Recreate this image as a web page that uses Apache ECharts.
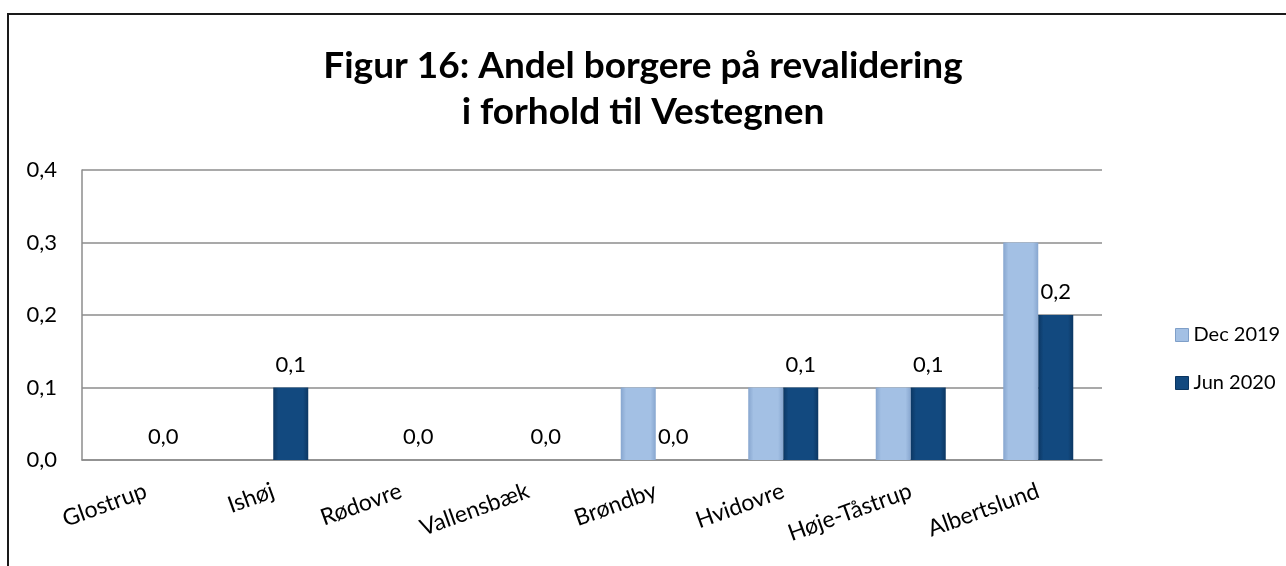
<!DOCTYPE html>
<html>
<head>
<meta charset="utf-8">
<script src="https://cdn.jsdelivr.net/npm/echarts@6/dist/echarts.min.js"></script>
<style>
  html, body { margin: 0; padding: 0; background: #fff; }
  #chart { position: absolute; left: 0; top: 0; width: 1286px; height: 566px; }
  #frame { position: absolute; left: 7px; top: 13px; width: 1300px; height: 600px;
           border-left: 2px solid #1a1a1a; border-top: 2px solid #1a1a1a; pointer-events: none; }
</style>
</head>
<body>
<div id="chart"></div>
<div id="frame"></div>
<script>
var font = 'Lato, "Open Sans", sans-serif';
var categories = ['Glostrup', 'Ishøj', 'Rødovre', 'Vallensbæk', 'Brøndby', 'Hvidovre', 'Høje-Tåstrup', 'Albertslund'];
var dec2019 = [0.0, 0.0, 0.0, 0.0, 0.1, 0.1, 0.1, 0.3];
var jun2020 = [0.0, 0.1, 0.0, 0.0, 0.0, 0.1, 0.1, 0.2];
var seriesNames = ['Dec 2019', 'Jun 2020'];

function fmt(v) { return v.toFixed(1).replace('.', ','); }

function grad(edge, mid) {
    return new echarts.graphic.LinearGradient(0, 0, 1, 0, [
        { offset: 0, color: edge },
        { offset: 0.15, color: mid },
        { offset: 0.85, color: mid },
        { offset: 1, color: edge }
    ]);
}

var decColor = grad('#87a6cf', '#a3c0e4');
var junColor = grad('#0c3763', '#12497f');

var option = {
    animation: false,
    title: {
        text: 'Figur 16: Andel borgere på revalidering\ni forhold til Vestegnen',
        left: 'center',
        top: 38,
        textStyle: {
            fontFamily: font,
            fontWeight: 'bold',
            fontSize: 37,
            lineHeight: 46,
            color: '#000'
        }
    },
    legend: {
        orient: 'vertical',
        left: 1170,
        top: 320,
        itemGap: 28,
        itemWidth: 13,
        itemHeight: 13,
        icon: 'rect',
        textStyle: { fontFamily: font, fontSize: 20, color: '#000' },
        data: [
            { name: 'Dec 2019', itemStyle: { color: '#a3c0e4', borderColor: '#7f9fc8', borderWidth: 1 } },
            { name: 'Jun 2020', itemStyle: { color: '#12497f', borderColor: '#0a3560', borderWidth: 1 } }
        ]
    },
    grid: { left: 82, right: 184, top: 170, bottom: 106 },
    xAxis: {
        type: 'category',
        data: categories,
        axisLine: { lineStyle: { color: '#8c8c8c', width: 1.5 } },
        axisTick: { show: false },
        axisLabel: {
            rotate: 20,
            interval: 0,
            margin: 30,
            fontFamily: font,
            fontSize: 23,
            color: '#000'
        }
    },
    yAxis: {
        type: 'value',
        min: 0,
        max: 0.4,
        interval: 0.1,
        axisLine: { show: true, lineStyle: { color: '#8c8c8c', width: 1.5 } },
        axisTick: { show: false },
        splitLine: { lineStyle: { color: '#8c8c8c', width: 1.5 } },
        axisLabel: {
            margin: 25,
            fontFamily: font,
            fontSize: 22,
            color: '#000',
            formatter: function (v) { return fmt(v); }
        }
    },
    series: [
        {
            name: seriesNames[0],
            type: 'bar',
            data: dec2019,
            barWidth: 35,
            barGap: '0%',
            itemStyle: { color: decColor, borderWidth: 0 }
        },
        {
            name: seriesNames[1],
            type: 'bar',
            data: jun2020,
            barWidth: 35,
            itemStyle: { color: junColor, borderWidth: 0 },
            label: {
                show: true,
                position: 'top',
                distance: 12,
                fontFamily: font,
                fontSize: 22,
                color: '#000',
                formatter: function (p) { return fmt(p.value); }
            }
        }
    ]
};

var myChart = echarts.init(document.getElementById('chart'));
myChart.setOption(option);
</script>
</body>
</html>
